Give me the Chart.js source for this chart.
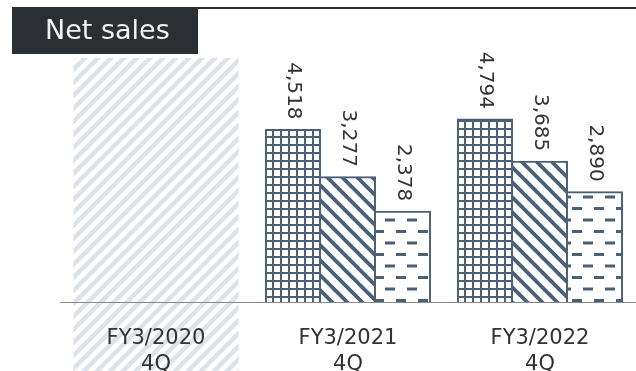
<!DOCTYPE html>
<html>
<head>
<meta charset="utf-8">
<script src="https://cdn.jsdelivr.net/npm/chart.js@4"></script>
<style>
html, body { margin: 0; padding: 0; background: #fff; }
#wrap { width: 636px; height: 371px; position: relative; }
</style>
</head>
<body>
<div id="wrap"><canvas id="myChart"></canvas></div>
<script>
var categories = [['FY3/2020', '4Q'], ['FY3/2021', '4Q'], ['FY3/2022', '4Q']];
var series1 = [null, 4518, 4794];
var series2 = [null, 3277, 3685];
var series3 = [null, 2378, 2890];
var title = 'Net sales';

var dark = '#4a6076';
var textColor = '#333333';
var fontName = '"DejaVu Sans", Verdana, sans-serif';

function makePattern(w, h, draw) {
    var c = document.createElement('canvas');
    c.width = w;
    c.height = h;
    var g = c.getContext('2d');
    g.fillStyle = '#fff';
    g.fillRect(0, 0, w, h);
    draw(g);
    return g.createPattern(c, 'repeat');
}

// grid
var gridPattern = makePattern(8, 8, function (g) {
    g.fillStyle = dark;
    g.fillRect(0, 0, 8, 2);
    g.fillRect(0, 0, 2, 8);
});

// "\" stripes
var diagPattern = makePattern(15, 15, function (g) {
    g.strokeStyle = dark;
    g.lineWidth = 3.8;
    for (var k = -1; k <= 1; k++) {
        g.beginPath();
        g.moveTo(-2 + k * 15, -2);
        g.lineTo(17 + k * 15, 17);
        g.stroke();
    }
});

// dashes
var dashPattern = makePattern(22, 23, function (g) {
    g.fillStyle = dark;
    g.fillRect(0, 0, 10, 3);
    g.fillRect(11, 11.5, 10, 3);
});

// light "/" stripes for the first column
var lightPattern = makePattern(13, 13, function (g) {
    g.strokeStyle = '#dde2e9';
    g.lineWidth = 4.5;
    for (var k = -1; k <= 1; k++) {
        g.beginPath();
        g.moveTo(-2 + k * 13, 15);
        g.lineTo(15 + k * 13, -2);
        g.stroke();
    }
});

var decorations = {
    id: 'decorations',
    beforeDraw: function (chart) {
        var ctx = chart.ctx;
        var x = chart.scales.x;
        var w = (x.getPixelForValue(1) - x.getPixelForValue(0)) * 0.86;
        var cx = x.getPixelForValue(0);
        ctx.save();
        ctx.fillStyle = lightPattern;
        ctx.fillRect(cx - w / 2, 58, w, chart.height - 58);

        // title box and top rule
        ctx.fillStyle = '#2b2f33';
        ctx.fillRect(12, 7, 186, 47);
        ctx.fillRect(198, 7, chart.width - 198, 2);
        ctx.fillStyle = '#f2f2f2';
        ctx.font = '27px ' + fontName;
        ctx.textAlign = 'left';
        ctx.textBaseline = 'middle';
        ctx.fillText(title, 45, 32);
        ctx.restore();
    },
    afterDatasetsDraw: function (chart) {
        var ctx = chart.ctx;
        ctx.save();
        ctx.font = '20px ' + fontName;
        ctx.fillStyle = textColor;
        ctx.textAlign = 'right';
        ctx.textBaseline = 'middle';
        chart.data.datasets.forEach(function (ds, i) {
            chart.getDatasetMeta(i).data.forEach(function (bar, j) {
                var v = ds.data[j];
                if (v == null) return;
                ctx.save();
                ctx.translate(bar.x, bar.y - 10);
                ctx.rotate(Math.PI / 2);
                ctx.fillText(v.toLocaleString('en-US'), 0, 0);
                ctx.restore();
            });
        });
        ctx.restore();
    }
};

var inner = { top: 2, right: 2, bottom: 0, left: 0 };

var data = {
    labels: categories,
    datasets: [
        { label: 'Series 1', data: series1, backgroundColor: gridPattern, borderColor: dark, borderWidth: { top: 2, right: 2, bottom: 0, left: 2 } },
        { label: 'Series 2', data: series2, backgroundColor: diagPattern, borderColor: dark, borderWidth: inner },
        { label: 'Series 3', data: series3, backgroundColor: dashPattern, borderColor: dark, borderWidth: inner }
    ]
};

var options = {
    responsive: true,
    maintainAspectRatio: false,
    animation: false,
    layout: { padding: { left: 60, right: 0, top: 58, bottom: 0 } },
    plugins: { legend: { display: false }, tooltip: { enabled: false } },
    datasets: { bar: { categoryPercentage: 0.86, barPercentage: 1.0, inflateAmount: 0.5, borderSkipped: false } },
    scales: {
        x: {
            grid: { display: false },
            border: { display: true, color: '#888888', width: 1 },
            ticks: {
                color: textColor,
                font: { family: fontName, size: 21, lineHeight: 1.25 },
                padding: 15,
                maxRotation: 0
            },
            afterFit: function (scale) { scale.height = 69; }
        },
        y: {
            display: false,
            min: 0,
            max: 6390
        }
    }
};

new Chart(document.getElementById('myChart'), {
    type: 'bar',
    data: data,
    options: options,
    plugins: [decorations]
});
</script>
</body>
</html>
